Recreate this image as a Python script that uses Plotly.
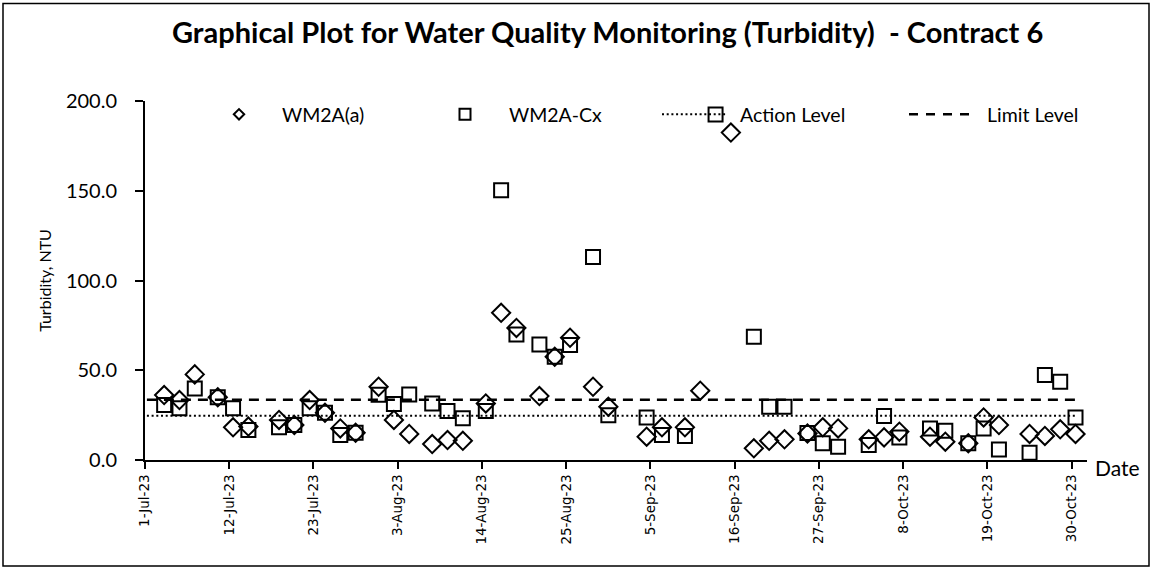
import plotly.graph_objects as go

# Sampling dates (samples taken around midday)
sample_dates = [
    "2023-07-03 12:00", "2023-07-05 12:00", "2023-07-07 12:00", "2023-07-10 12:00",
    "2023-07-12 12:00", "2023-07-14 12:00", "2023-07-18 12:00", "2023-07-20 12:00",
    "2023-07-22 12:00", "2023-07-24 12:00", "2023-07-26 12:00", "2023-07-28 12:00",
    "2023-07-31 12:00", "2023-08-02 12:00", "2023-08-04 12:00", "2023-08-07 12:00",
    "2023-08-09 12:00", "2023-08-11 12:00", "2023-08-14 12:00", "2023-08-16 12:00",
    "2023-08-18 12:00", "2023-08-21 12:00", "2023-08-23 12:00", "2023-08-25 12:00",
    "2023-08-28 12:00", "2023-08-30 12:00", "2023-09-04 12:00", "2023-09-06 12:00",
    "2023-09-09 12:00", "2023-09-11 12:00", "2023-09-13 12:00", "2023-09-15 12:00",
    "2023-09-18 12:00", "2023-09-20 12:00", "2023-09-22 12:00", "2023-09-25 12:00",
    "2023-09-27 12:00", "2023-09-29 12:00", "2023-10-03 12:00", "2023-10-05 12:00",
    "2023-10-07 12:00", "2023-10-11 12:00", "2023-10-13 12:00", "2023-10-16 12:00",
    "2023-10-18 12:00", "2023-10-20 12:00", "2023-10-24 12:00", "2023-10-26 12:00",
    "2023-10-28 12:00", "2023-10-30 12:00",
]

# Turbidity (NTU) at monitoring station WM2A(a)
wm2a_a = [
    36.2, 33.4, 47.7, 34.9, 18.2, 18.6, 22.3, 19.5, 33.4, 26.3,
    17.6, 15.2, 40.8, 22.3, 14.5, 8.9, 11.1, 10.7, 31.5, 82.0,
    73.6, 35.6, 57.5, 68.1, 40.8, 29.7, 13.0, 18.2, 18.2, 38.6,
    None, 182.4, 6.5, 10.7, 11.5, 14.8, 18.2, 17.6, 11.5, 12.6,
    15.8, 13.0, 10.2, 9.3, 23.7, 19.5, 14.5, 13.4, 17.1, 14.5,
]

# Turbidity (NTU) at control station WM2A-Cx
wm2a_cx = [
    30.6, 28.8, 39.9, 35.0, 28.8, 16.7, 18.2, 19.5, 28.8, 26.3,
    13.9, 15.2, 36.3, 31.2, 36.5, 31.5, 27.3, 23.2, 27.3, 150.3,
    69.9, 64.4, 57.5, 64.0, 113.1, 25.0, 23.7, 13.9, 13.4, None,
    192.5, None, 68.6, 29.7, 29.7, 15.0, 9.3, 7.4, 8.3, 24.5,
    12.6, 17.6, 16.3, 9.3, 17.6, 5.9, 4.1, 47.3, 43.6, 23.7,
]

# Compliance levels (NTU)
level_dates = ["2023-07-01 06:00", "2023-10-30 12:00"]
action_level = [24.7, 24.7]
limit_level = [33.6, 33.6]

# Axis ticks
tick_dates = ["2023-07-01", "2023-07-12", "2023-07-23", "2023-08-03", "2023-08-14",
              "2023-08-25", "2023-09-05", "2023-09-16", "2023-09-27", "2023-10-08",
              "2023-10-19", "2023-10-30"]
tick_labels = ["1-Jul-23", "12-Jul-23", "23-Jul-23", "3-Aug-23", "14-Aug-23",
               "25-Aug-23", "5-Sep-23", "16-Sep-23", "27-Sep-23", "8-Oct-23",
               "19-Oct-23", "30-Oct-23"]
y_ticks = [0, 50, 100, 150, 200]
y_tick_labels = ["0.0", "50.0", "100.0", "150.0", "200.0"]

legend_labels = ["WM2A(a)", "WM2A-Cx", "Action Level", "Limit Level"]

BLACK = "#000000"
TEXT_FONT = "Lato, Carlito, Calibri, sans-serif"

fig = go.Figure()

fig.add_trace(go.Scatter(
    x=level_dates, y=action_level, mode="lines", name="Action Level",
    line=dict(color=BLACK, width=2, dash="2px,2.7px"), hoverinfo="skip",
))
fig.add_trace(go.Scatter(
    x=level_dates, y=limit_level, mode="lines", name="Limit Level",
    line=dict(color=BLACK, width=2.5, dash="10px,7px"), hoverinfo="skip",
))
fig.add_trace(go.Scatter(
    x=sample_dates, y=wm2a_a, mode="markers", name="WM2A(a)",
    marker=dict(symbol="diamond-open", size=14, color=BLACK, line=dict(width=2, color=BLACK)),
))
fig.add_trace(go.Scatter(
    x=sample_dates, y=wm2a_cx, mode="markers", name="WM2A-Cx",
    marker=dict(symbol="square-open", size=14, color=BLACK, line=dict(width=2, color=BLACK)),
))

# Legend row drawn on an overlay axis measured in pixels of the page
LX0, LX1, LY0, LY1 = 145, 1087, 460, 100.7
PW, PH = LX1 - LX0, LY0 - LY1
legend_y = 114
fig.add_trace(go.Scatter(
    x=[239], y=[legend_y], mode="markers", xaxis="x2", yaxis="y2", showlegend=False,
    marker=dict(symbol="diamond-open", size=8, color=BLACK, line=dict(width=2, color=BLACK)),
    hoverinfo="skip",
))
fig.add_trace(go.Scatter(
    x=[465], y=[legend_y], mode="markers", xaxis="x2", yaxis="y2", showlegend=False,
    marker=dict(symbol="square-open", size=11, color=BLACK, line=dict(width=2, color=BLACK)),
    hoverinfo="skip",
))
fig.add_trace(go.Scatter(
    x=[662, 727], y=[legend_y, legend_y], mode="lines", xaxis="x2", yaxis="y2", showlegend=False,
    line=dict(color=BLACK, width=2, dash="2px,2.7px"), hoverinfo="skip",
))
fig.add_trace(go.Scatter(
    x=[909, 976], y=[legend_y, legend_y], mode="lines", xaxis="x2", yaxis="y2", showlegend=False,
    line=dict(color=BLACK, width=2.5, dash="9px,8px"), hoverinfo="skip",
))
for label, xpos in zip(legend_labels, [280, 507, 738, 985]):
    fig.add_annotation(
        x=xpos, y=legend_y, xref="x2", yref="y2", text=label, showarrow=False,
        xanchor="left", yanchor="middle", font=dict(family=TEXT_FONT, size=19.5, color=BLACK),
    )

# "Date" caption to the right of the x axis
fig.add_annotation(
    x=(1093 - LX0) / PW, y=(LY0 - 468) / PH, xref="paper", yref="paper",
    text="Date", showarrow=False,
    xanchor="left", yanchor="middle", font=dict(family=TEXT_FONT, size=21, color=BLACK),
)

# Outer chart border (paper coordinates extend past the plot area)
fig.add_shape(
    type="rect", xref="paper", yref="paper",
    x0=(3 - LX0) / PW, x1=(1149 - LX0) / PW,
    y0=(LY0 - 566) / PH, y1=(LY0 - 3) / PH,
    line=dict(color=BLACK, width=1.5), fillcolor="rgba(0,0,0,0)", layer="below",
)

fig.update_layout(
    width=1153, height=568,
    margin=dict(l=145, r=66, t=100.7, b=108),
    paper_bgcolor="white", plot_bgcolor="white",
    showlegend=False,
    title=dict(
        text="<b>Graphical Plot for Water Quality Monitoring (Turbidity)  - Contract 6</b>",
        x=0.527, xanchor="center", y=1 - 33 / 568, yanchor="middle",
        font=dict(family=TEXT_FONT, size=29, color=BLACK),
    ),
    xaxis=dict(
        type="date", range=["2023-07-01", "2023-11-01"],
        tickvals=tick_dates, ticktext=tick_labels, tickangle=-90,
        tickfont=dict(family="DejaVu Sans", size=13.5, color=BLACK),
        showgrid=False, zeroline=False,
        showline=True, linecolor=BLACK, linewidth=2,
        ticks="outside", ticklen=7, tickwidth=1.5, tickcolor=BLACK,
    ),
    yaxis=dict(
        range=[0, 200], tickvals=y_ticks, ticktext=y_tick_labels,
        tickfont=dict(family=TEXT_FONT, size=20, color=BLACK),
        ticklabelstandoff=14,
        title=dict(text="Turbidity, NTU", font=dict(family=TEXT_FONT, size=16, color=BLACK), standoff=10),
        showgrid=False, zeroline=False,
        showline=True, linecolor=BLACK, linewidth=2,
        ticks="outside", ticklen=8, tickwidth=1.5, tickcolor=BLACK,
    ),
    xaxis2=dict(range=[LX0, LX1], overlaying="x", visible=False, fixedrange=True),
    yaxis2=dict(range=[LY0, LY1], overlaying="y", visible=False, fixedrange=True),
)

fig.write_html("out.html")
